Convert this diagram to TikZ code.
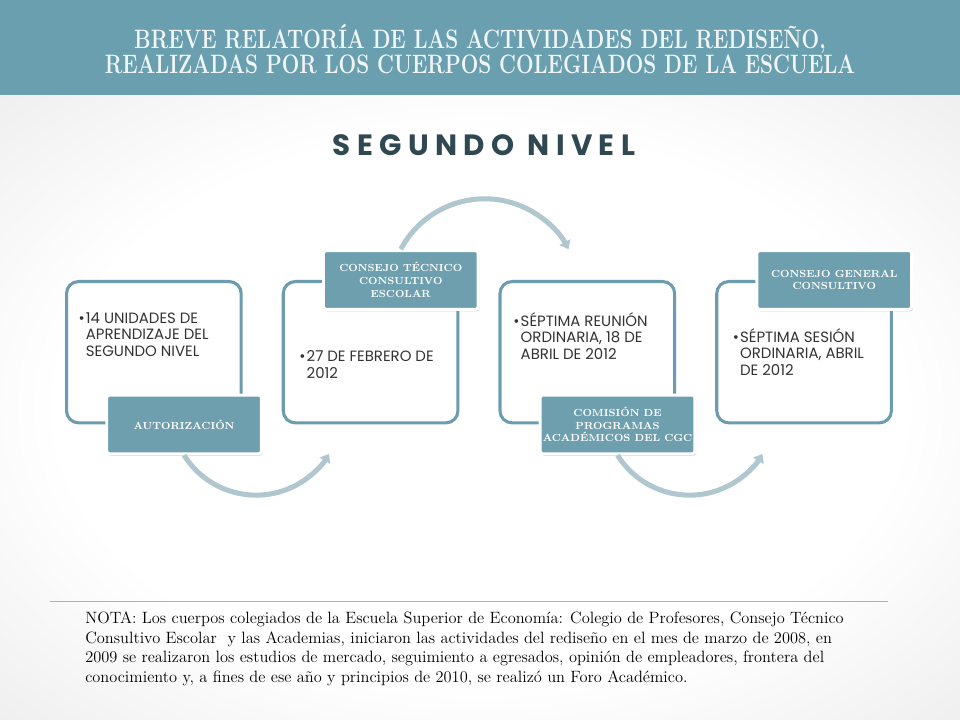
\documentclass[tikz,border=0pt]{standalone}
\usepackage{fontspec}
\newfontfamily\gothic{Poppins}
\usetikzlibrary{positioning,shadows,arrows.meta}
\definecolor{headfill}{HTML}{6A9FB0}
\definecolor{boxline}{HTML}{6B9DAE}
\definecolor{tagfill}{HTML}{6E9FAF}
\definecolor{arcline}{HTML}{B0C7D0}
\definecolor{nivel}{HTML}{2F4852}
\pgfdeclareradialshading{slidebg}{\pgfpoint{0bp}{0bp}}{color(0bp)=(white); color(22bp)=(white); color(50bp)=(black!13); color(100bp)=(black!15)}
\newcommand{\bul}{\makebox[5.5pt][l]{\textbullet}}
\newcommand{\ind}{\hspace*{5.5pt}}
\tikzset{
step box/.style={draw=boxline, line width=2.3pt, rounded corners=9pt, fill=white,
  minimum width=131pt, minimum height=106pt, anchor=north west},
tag box/.style={fill=tagfill, draw=white, line width=2.2pt, rounded corners=2pt,
  drop shadow={shadow xshift=1pt, shadow yshift=-1.5pt, opacity=0.35},
  text=white, font=\fontsize{7.7}{9.6}\selectfont\bfseries, align=center,
  minimum width=116pt, minimum height=44pt, inner sep=1pt},
item/.style={font=\gothic\fontsize{11.2}{12.4}\selectfont, text=black!80, align=left, anchor=north west, inner sep=0pt},
flow/.style={draw=arcline, line width=3.8pt, -{Triangle[length=6pt, width=9pt]}}
}
\begin{document}
\begin{tikzpicture}[x=0.75pt, y=0.75pt]
\useasboundingbox (0,0) rectangle (960,-720);
% fondo y encabezado
\shade[shading=slidebg] (0,-95) rectangle (960,-720);
\fill[headfill] (0,0) rectangle (960,-95);
\node[text=white!90!headfill, font=\fontsize{20}{19}\selectfont\bfseries, align=center] (title) at (480,-49)
  {\scalebox{0.78}[1]{BREVE RELATORÍA DE LAS ACTIVIDADES DEL REDISEÑO,}\\
   \scalebox{0.78}[1]{REALIZADAS POR LOS CUERPOS COLEGIADOS DE LA ESCUELA}};
\node[text=nivel, font=\gothic\fontsize{22}{24}\selectfont\bfseries\addfontfeatures{LetterSpace=22}] (nivel) at (484,-145) {SEGUNDO NIVEL};
% cajas
\node[step box] (b1) at (65,-280) {};
\node[step box, right=29.25pt of b1] (b2) {};
\node[step box, right=29.25pt of b2] (b3) {};
\node[step box, right=29.25pt of b3] (b4) {};
% etiquetas
\node[tag box] (aut) at ([xshift=-44pt]b1.south east) {AUTORIZACIÓN};
\node[tag box] (cte) at ([xshift=-44pt]b2.north east) {CONSEJO TÉCNICO\\CONSULTIVO\\ESCOLAR};
\node[tag box] (cpa) at ([xshift=-44pt]b3.south east) {COMISIÓN DE\\PROGRAMAS\\ACADÉMICOS DEL CGC};
\node[tag box] (cgc) at ([xshift=-44pt]b4.north east) {CONSEJO GENERAL\\CONSULTIVO};
% flechas
\draw[flow] (aut.south) arc[start angle=212, end angle=329, radius=85];
\draw[flow] (cte.north) arc[start angle=152, end angle=28, radius=95];
\draw[flow] (cpa.south) arc[start angle=212, end angle=329, radius=85];
% textos
\node[item] (t1) at ([xshift=10pt,yshift=-24pt]b1.north west)
  {\bul14 UNIDADES DE\\\ind APRENDIZAJE DEL\\\ind SEGUNDO NIVEL};
\node[item] (t2) at ([xshift=13pt,yshift=-53pt]b2.north west)
  {\bul27 DE FEBRERO DE\\\ind 2012};
\node[item] (t3) at ([xshift=11pt,yshift=-24pt]b3.north west)
  {\bul SÉPTIMA REUNIÓN\\\ind ORDINARIA, 18 DE\\\ind ABRIL DE 2012};
\node[item] (t4) at ([xshift=13pt,yshift=-36pt]b4.north west)
  {\bul SÉPTIMA SESIÓN\\\ind ORDINARIA, ABRIL\\\ind DE 2012};
% nota
\draw[boxline!70, line width=0.6pt] (50,-601) coordinate (n1) -- (888,-601) coordinate (n2);
\node[font=\fontsize{12.3}{14.6}\selectfont, align=left, anchor=north west, inner sep=0pt] (nota) at (85,-612)
  {NOTA: Los cuerpos colegiados de la Escuela Superior de Economía: Colegio de Profesores, Consejo Técnico\\
   Consultivo Escolar\ \ y las Academias, iniciaron las actividades del rediseño en el mes de marzo de 2008, en\\
   2009 se realizaron los estudios de mercado, seguimiento a egresados, opinión de empleadores, frontera del\\
   conocimiento y, a fines de ese año y principios de 2010, se realizó un Foro Académico.};
\end{tikzpicture}
\end{document}
